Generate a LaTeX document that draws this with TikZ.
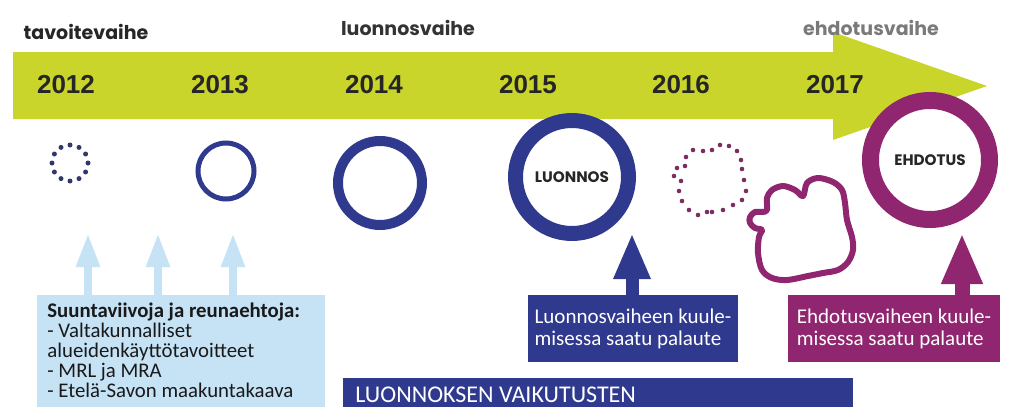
\documentclass[tikz,border=0pt]{standalone}
\usepackage{fontspec}
\setmainfont{Carlito}
\newfontfamily\geofont{Poppins}
\newfontfamily\yearfont{Liberation Sans}
\usetikzlibrary{arrows.meta,positioning}
\definecolor{limeg}{HTML}{C9D52B}
\definecolor{navy}{HTML}{2F3A8F}
\definecolor{plum}{HTML}{912670}
\definecolor{skyb}{HTML}{C6E3F6}
\definecolor{dotnavy}{HTML}{33386B}
\definecolor{dotplum}{HTML}{7A2D60}
\definecolor{phasegray}{HTML}{7A7A7A}
\tikzset{
  year/.style = {font=\yearfont\bfseries\fontsize{13}{15}\selectfont, text=black!85},
  phase/.style = {font=\geofont\bfseries\fontsize{9.5}{11}\selectfont, text=black!85},
  ring/.style = {draw=navy, fill=white, circle, inner sep=0pt, outer sep=0pt},
  stage/.style = {font=\geofont\bfseries\fontsize{7.6}{9}\selectfont, text=black!85},
  palbox/.style = {minimum width=105pt, minimum height=33.5pt, text=white, align=left,
                   font=\fontsize{10.5}{11}\selectfont},
  uparrow/.style = {draw=skyb, line width=4pt, -{Triangle[width=11pt,length=17pt]}},
}
\begin{document}
\begin{tikzpicture}[x=0.5pt, y=-0.5pt]
\useasboundingbox (0,0) rectangle (1024,407);
\clip (0,0) rectangle (1024,407);
% aikajana
\fill[limeg] (13,52) -- (833,52) -- (833,32) -- (987,86) -- (833,140) -- (833,119) -- (13,119) -- cycle;
\node[phase] (tavoite) at (86,32) {tavoitevaihe};
\node[phase, text=black!80] (luonnosv) at (408,28) {luonnosvaihe};
\node[phase, text=phasegray] (ehdotusv) at (871,28) {ehdotusvaihe};
\foreach \yr/\x in {2012/66, 2013/220, 2014/374, 2015/528, 2016/681, 2017/835}
  \node[year] (y\yr) at (\x,85) {\yr};
% ympyrat
\node[circle, minimum size=18pt, inner sep=0pt, outer sep=0pt] (d12) at (70,163) {};
\foreach \a in {0,30,...,330}
  \fill[dotnavy] (d12.\a) circle (2.5);
\node[ring, line width=2.5pt, minimum size=28pt] (r13) at (226,171) {};
\node[ring, line width=5pt, minimum size=42pt] (r14) at (380,183) {};
\node[ring, line width=7.5pt, minimum size=56.5pt, stage] (luonnos) at (572,177) {LUONNOS};
\node[circle, minimum size=36pt, inner sep=0pt] (blob) at (711,182) {};
\foreach \x/\y in {693/150, 703/151, 712/150, 720/145, 729/146, 737/151, 741/160, 742/169,
  744/180, 746/191, 742/200, 733/205, 723/210, 712/212, 707/212, 698/215, 689/210, 682/201,
  679/191, 681/181, 674/176, 677/168, 685/166, 686/157}
  \fill[dotplum] (\x,\y) circle (2.3);
\draw[plum, line width=3pt, line join=round] plot[smooth cycle, tension=0.55] coordinates {
  (767,198) (772,190) (783,186) (795,190) (803,196) (807,183) (818,178) (833,182) (842,190)
  (845,203) (847,220) (852,237) (853,250) (848,262) (838,270) (823,273) (808,276) (787,280)
  (772,278) (762,270) (758,253) (759,237) (762,230) (755,228) (750,223) (750,217) (755,212)
  (762,212) (767,210)};
\node[ring, draw=plum, line width=8.5pt, minimum size=59.5pt, stage] (ehdotus) at (930,160) {EHDOTUS};
% laatikot
\node[fill=skyb, minimum width=144pt, minimum height=62.5pt, anchor=north west] (sbox) at (37,295) {};
\node[anchor=north west, align=left, inner sep=0pt, font=\fontsize{10.4}{10}\selectfont, text=black!90]
  (stext) at ([xshift=5pt, yshift=-4pt]sbox.north west)
  {\textbf{Suuntaviivoja ja reunaehtoja:}\\- Valtakunnalliset\\alueidenkäyttötavoitteet\\- MRL ja MRA\\- Etelä-Savon maakuntakaava};
\node[palbox, fill=navy] (lpal) at (633,328.5) {Luonnosvaiheen kuule-\\misessa saatu palaute};
\node[palbox, fill=plum, minimum width=106pt] (epal) at (894,328.5) {Ehdotusvaiheen kuule-\\misessa saatu palaute};
\node[fill=navy, minimum width=255pt, minimum height=20pt, anchor=north west] (vbox) at (343,378) {};
\node[anchor=north west, inner sep=0pt, text=white, font=\fontsize{12}{13}\selectfont]
  (vtext) at ([xshift=6pt, yshift=-4.5pt]vbox.north west) {LUONNOKSEN VAIKUTUSTEN};
% nuolet
\coordinate (t1) at (88,233);
\coordinate (t2) at (158,233);
\coordinate (t3) at (233,233);
\coordinate (t4) at (632,233);
\coordinate (t5) at (962,233);
\foreach \t in {t1,t2,t3}
  \draw[uparrow] (sbox.north -| \t) -- (\t);
\draw[uparrow, draw=navy, line width=6.5pt, -{Triangle[width=17pt,length=23pt]}] (lpal.north -| t4) -- (t4);
\draw[uparrow, draw=plum, line width=7.5pt, -{Triangle[width=19pt,length=25.5pt]}] (epal.north -| t5) -- (t5);
\end{tikzpicture}
\end{document}
